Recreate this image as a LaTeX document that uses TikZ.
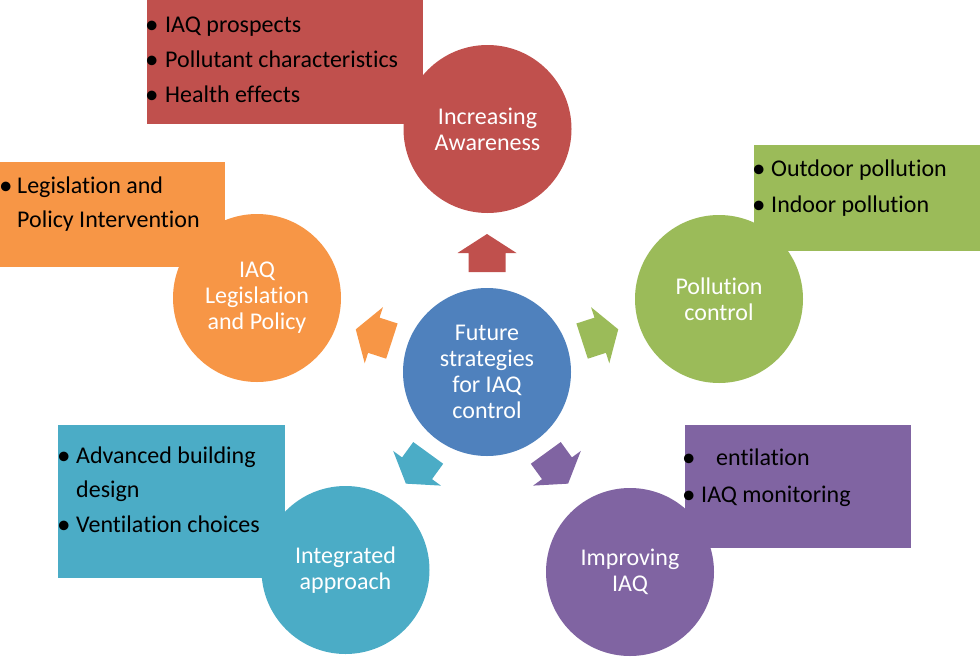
\documentclass[tikz,border=0pt]{standalone}
\usepackage{fontspec}
\setmainfont{Carlito}[Ligatures=NoCommon]
\definecolor{cred}{HTML}{C0504D}
\definecolor{corange}{HTML}{F79646}
\definecolor{cgreen}{HTML}{9BBB59}
\definecolor{ccyan}{HTML}{4BACC6}
\definecolor{cpurple}{HTML}{8064A2}
\definecolor{cblue}{HTML}{4F81BD}
\newcommand\ctxt{\fontsize{24}{26}\selectfont}
\newcommand\btxt{\fontsize{27}{26}\selectfont}
\begin{document}
\begin{tikzpicture}[x=1pt,y=1pt,
  circ/.style={circle, minimum size=168pt, inner sep=0pt, fill=#1, text=white, align=center, font=\ctxt},
  item/.style={anchor=base west, inner sep=0pt, font=\ctxt, text=black},
  bul/.style={anchor=base west, inner sep=0pt, font=\btxt, text=black}]
\useasboundingbox (0,0) rectangle (980,-659);

% boxes
\fill[cred] (147,0) rectangle (423,-124);
\fill[corange] (0,-162) rectangle (225,-267);
\fill[cgreen] (754,-145) rectangle (980,-251);
\fill[ccyan] (58,-425) rectangle (285,-578);
\fill[cpurple] (685,-425) rectangle (911,-548);

% arrows
\foreach \a/\c in {90/cred,162/corange,234/ccyan,306/cpurple,18/cgreen}{
  \fill[\c, shift={(487,-372)}, rotate=\a-90]
    (-18.5,100) -- (18.5,100) -- (18.5,119) -- (29.5,119) -- (0,138)
    -- (-29.5,119) -- (-18.5,119) -- cycle;
}

% circles
\node[circ=cblue] (ctr) at (487,-372) {Future\\strategies\\for IAQ\\control};
\node[circ=cred] (aw) at (487.5,-129) {Increasing\\Awareness};
\node[circ=corange] (lg) at (257,-298) {IAQ\\Legislation\\and Policy};
\node[circ=cgreen] (pc) at (719,-299) {Pollution\\control};
\node[circ=ccyan] (ia) at (345.5,-570) {Integrated\\approach};
\node[circ=cpurple] (im) at (630,-572) {Improving\\IAQ};

% red box text
\node[bul] (rb1) at (145,-33) {•};
\node[item] (rt1) at (165,-32) {IAQ prospects};
\node[bul] (rb2) at (145,-68) {•};
\node[item] (rt2) at (165,-67) {Pollutant characteristics};
\node[bul] (rb3) at (145,-103) {•};
\node[item] (rt3) at (165,-102) {Health effects};

% orange box text
\node[bul] (ob1) at (-1,-194) {•};
\node[item] (ot1) at (17,-193) {Legislation and};
\node[item] (ot2) at (17,-227) {Policy Intervention};

% green box text
\node[bul] (gb1) at (752,-177) {•};
\node[item] (gt1) at (771,-176) {Outdoor pollution};
\node[bul] (gb2) at (752,-213) {•};
\node[item] (gt2) at (771,-212) {Indoor pollution};

% cyan box text
\node[bul] (cb1) at (57,-464) {•};
\node[item] (ct1) at (76,-463) {Advanced building};
\node[item] (ct2) at (76,-497) {design};
\node[bul] (cb2) at (57,-533) {•};
\node[item] (ct3) at (76,-532) {Ventilation choices};

% purple box text
\node[bul] (pb1) at (682,-466) {•};
\node[item] (pt1) at (716,-465) {entilation};
\node[bul] (pb2) at (682,-503) {•};
\node[item] (pt2) at (701,-502) {IAQ monitoring};
\end{tikzpicture}
\end{document}
